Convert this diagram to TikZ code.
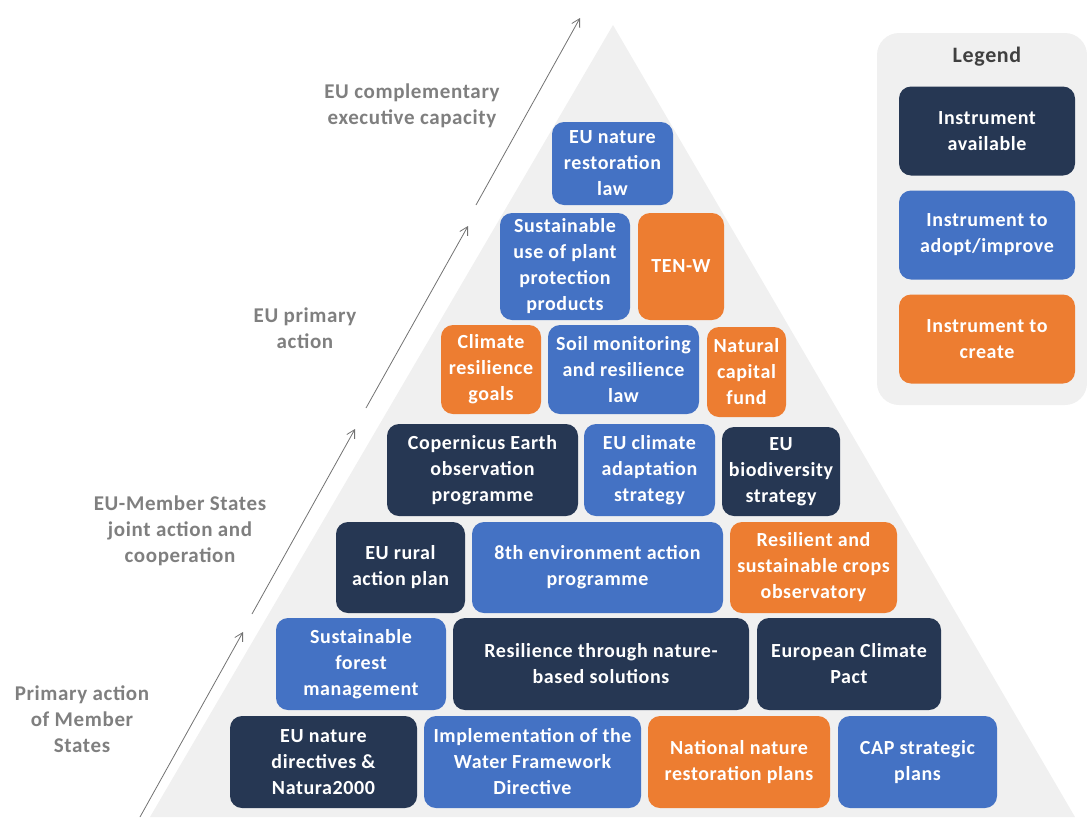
\documentclass[tikz,border=0pt]{standalone}
\usepackage{fontspec}
\setmainfont{Carlito}[LetterSpace=3.0]
\usepackage{xcolor}
\usepackage{tikz}
\usetikzlibrary{arrows.meta}
\definecolor{pnavy}{HTML}{263753}
\definecolor{pblue}{HTML}{4472C4}
\definecolor{porange}{HTML}{ED7D31}
\definecolor{plbg}{HTML}{F0F0F0}
\definecolor{pgray}{HTML}{7F7F7F}
\definecolor{pdark}{HTML}{404040}

\begin{document}
\begin{tikzpicture}[
    x=1pt,y=-1pt,
    font=\bfseries\fontsize{20}{26}\selectfont,
    bx/.style={rounded corners=12pt,text=white,align=center,inner sep=0pt},
    avail/.style={bx,fill=pnavy},
    adopt/.style={bx,fill=pblue},
    create/.style={bx,fill=porange},
    lvl/.style={text=pgray,align=center,font=\bfseries\fontsize{21}{26}\selectfont},
    arr/.style={-{Straight Barb[length=8pt,width=9pt]},pgray!90!black,line width=0.8pt}
  ]
    \useasboundingbox (0,0) rectangle (1087,817);

    % Pyramid
    \fill[plbg] (613,25) -- (1075,817) -- (150,817) -- cycle;

    % Level arrows
    \coordinate (a1s) at (140,817);  \coordinate (a1e) at (243,632);
    \coordinate (a2s) at (252,614);  \coordinate (a2e) at (355,429);
    \coordinate (a3s) at (366,408);  \coordinate (a3e) at (468,226);
    \coordinate (a4s) at (476,205);  \coordinate (a4e) at (580,18);
    \draw[arr] (a1s) -- (a1e);
    \draw[arr] (a2s) -- (a2e);
    \draw[arr] (a3s) -- (a3e);
    \draw[arr] (a4s) -- (a4e);

    % Level labels
    \node[lvl] (compl) at (412,106) {EU complementary\\executive capacity};
    \node[lvl] (prim)  at (305,328) {EU primary\\action};
    \node[lvl] (joint) at (180,531) {EU-Member States\\joint action and\\cooperation};
    \node[lvl] (msact) at (82,719)  {Primary action\\of Member\\States};

    % Row 1
    \node[adopt,minimum width=121,minimum height=83] (restlaw) at (612.5,163.5) {EU nature\\restoration\\law};
    % Row 2
    \node[adopt,minimum width=130,minimum height=107] (pesti) at (565,266.5) {Sustainable\\use of plant\\protection\\products};
    \node[create,minimum width=86,minimum height=107] (tenw) at (681,266.5) {TEN-W};
    % Row 3
    \node[create,minimum width=100,minimum height=89] (resgoal) at (491,369.5) {Climate\\resilience\\goals};
    \node[adopt,minimum width=151,minimum height=89] (soil) at (623.5,369.5) {Soil monitoring\\and resilience\\law};
    \node[create,minimum width=79,minimum height=90] (capfund) at (746.5,372) {Natural\\capital\\fund};
    % Row 4
    \node[avail,minimum width=191,minimum height=92] (coper) at (482.5,470) {Copernicus Earth\\observation\\programme};
    \node[adopt,minimum width=131,minimum height=92] (adapt) at (649.5,470) {EU climate\\adaptation\\strategy};
    \node[avail,minimum width=118,minimum height=89] (biodiv) at (781,471.5) {EU\\biodiversity\\strategy};
    % Row 5
    \node[avail,minimum width=129,minimum height=91] (rural) at (400.5,567.5) {EU rural\\action plan};
    \node[adopt,minimum width=251,minimum height=91] (eap) at (597.5,567.5) {8th environment action\\programme};
    \node[create,minimum width=167,minimum height=91] (crops) at (813.5,567.5) {Resilient and\\sustainable crops\\observatory};
    % Row 6
    \node[adopt,minimum width=170,minimum height=92] (forest) at (361,664) {Sustainable\\forest\\management};
    \node[avail,minimum width=296,minimum height=92] (nbs) at (601,664) {Resilience through nature-\\based solutions};
    \node[avail,minimum width=184,minimum height=92] (pact) at (849,664) {European Climate\\Pact};
    % Row 7
    \node[avail,minimum width=187,minimum height=92] (natdir) at (323.5,762) {EU nature\\directives \&\\Natura2000};
    \node[adopt,minimum width=217,minimum height=92] (wfd) at (532.5,762) {Implementation of the\\Water Framework\\Directive};
    \node[create,minimum width=182,minimum height=92] (natplan) at (739,762) {National nature\\restoration plans};
    \node[adopt,minimum width=159,minimum height=92] (cap) at (917.5,762) {CAP strategic\\plans};

    % Legend
    \fill[plbg,rounded corners=22pt] (877,33) rectangle (1087,405);
    \node[text=pdark,font=\bfseries\fontsize{22}{26}\selectfont] (leg) at (987,57) {Legend};
    \node[avail,minimum width=176,minimum height=89] (lavail) at (987,131) {Instrument\\available};
    \node[adopt,minimum width=176,minimum height=89] (ladopt) at (987,235) {Instrument to\\adopt/improve};
    \node[create,minimum width=176,minimum height=89] (lcreate) at (987,339) {Instrument to\\create};

  \end{tikzpicture}
\end{document}
